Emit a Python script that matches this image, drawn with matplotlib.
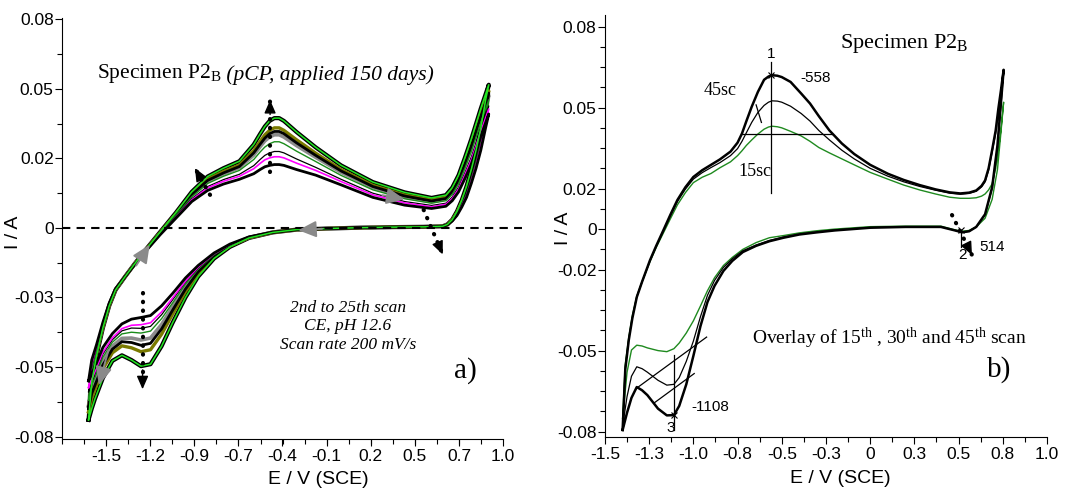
import matplotlib
matplotlib.use("Agg")
import matplotlib.pyplot as plt
from matplotlib.ticker import FixedLocator


plt.rcParams["font.family"] = "Liberation Sans"
plt.rcParams["mathtext.fontset"] = "custom"
plt.rcParams["mathtext.rm"] = "Liberation Serif"
plt.rcParams["mathtext.it"] = "Liberation Serif:italic"


# ---- panel a: scans 2..25, potentials (V vs SCE) ----
A_E_FWD = [-1.61, -1.59, -1.56, -1.52, -1.48, -1.44, -1.38, -1.32, -1.26, -1.16, -1.06, -0.96,
           -0.86, -0.76, -0.66, -0.57, -0.53, -0.50, -0.47, -0.44, -0.41, -0.38, -0.30, -0.18,
           -0.02, 0.18, 0.38, 0.55, 0.64, 0.68, 0.72, 0.76, 0.80, 0.86, 0.91]
A_E_REV = [0.91, 0.89, 0.86, 0.83, 0.80, 0.77, 0.74, 0.71, 0.68, 0.65, 0.62, 0.50, 0.30, 0.10,
           -0.10, -0.30, -0.45, -0.60, -0.72, -0.82, -0.92, -1.00, -1.08, -1.15, -1.22, -1.28,
           -1.34, -1.40, -1.46, -1.52, -1.57, -1.59, -1.61]

# currents (A), anodic sweep
A_FWD_BLACK = [-0.055, -0.0475, -0.042, -0.034, -0.027, -0.0218, -0.0175, -0.0132, -0.009,
               -0.0025, 0.0035, 0.0095, 0.0135, 0.0158, 0.0175, 0.0195, 0.021, 0.022, 0.0225,
               0.0228, 0.0228, 0.0225, 0.021, 0.019, 0.0155, 0.011, 0.0082, 0.0070, 0.0078,
               0.0098, 0.013, 0.0178, 0.023, 0.033, 0.041]
A_FWD_MAGENTA = [-0.0574, -0.0489, -0.0427, -0.0343, -0.0272, -0.0219, -0.0175, -0.0131,
                 -0.0089, -0.0023, 0.0038, 0.0101, 0.0144, 0.0168, 0.0186, 0.0213, 0.0232,
                 0.0245, 0.0252, 0.0256, 0.0256, 0.0252, 0.0233, 0.0207, 0.0167, 0.0119,
                 0.0090, 0.0076, 0.0085, 0.0106, 0.0140, 0.0191, 0.0245, 0.0347, 0.0428]
A_FWD_THIN = [-0.0589, -0.0497, -0.0431, -0.0346, -0.0273, -0.0219, -0.0175, -0.0131, -0.0089,
              -0.0022, 0.0041, 0.0105, 0.0149, 0.0174, 0.0193, 0.0224, 0.0246, 0.0261, 0.0270,
              0.0275, 0.0275, 0.0270, 0.0248, 0.0218, 0.0175, 0.0125, 0.0095, 0.0081, 0.0089,
              0.0111, 0.0147, 0.0199, 0.0255, 0.0358, 0.0439]
A_FWD_DKGREEN = [-0.0619, -0.0514, -0.0440, -0.0350, -0.0275, -0.0220, -0.0175, -0.0131,
                 -0.0088, -0.0020, 0.0045, 0.0112, 0.0160, 0.0186, 0.0207, 0.0246, 0.0273,
                 0.0291, 0.0303, 0.0310, 0.0310, 0.0303, 0.0276, 0.0239, 0.0189, 0.0137,
                 0.0105, 0.0089, 0.0098, 0.0121, 0.0159, 0.0215, 0.0274, 0.0379, 0.0461]
A_FWD_GRAY = [-0.0640, -0.0526, -0.0446, -0.0353, -0.0276, -0.0221, -0.0175, -0.0130, -0.0087,
              -0.0019, 0.0048, 0.0117, 0.0167, 0.0194, 0.0217, 0.0262, 0.0292, 0.0313, 0.0327,
              0.0335, 0.0335, 0.0327, 0.0296, 0.0254, 0.0200, 0.0145, 0.0111, 0.0094, 0.0104,
              0.0128, 0.0168, 0.0226, 0.0288, 0.0394, 0.0477]
A_FWD_BLACK2 = [-0.0649, -0.0532, -0.0448, -0.0354, -0.0277, -0.0222, -0.0175, -0.0130,
                -0.0086, -0.0018, 0.0049, 0.0120, 0.0171, 0.0198, 0.0221, 0.0270, 0.0301,
                0.0323, 0.0339, 0.0347, 0.0347, 0.0339, 0.0306, 0.0261, 0.0205, 0.0149,
                0.0115, 0.0097, 0.0106, 0.0131, 0.0173, 0.0231, 0.0294, 0.0401, 0.0485]
A_FWD_OLIVE = [-0.0661, -0.0538, -0.0452, -0.0356, -0.0278, -0.0222, -0.0175, -0.0130, -0.0086,
               -0.0017, 0.0051, 0.0123, 0.0175, 0.0203, 0.0226, 0.0278, 0.0311, 0.0335, 0.0351,
               0.0360, 0.0360, 0.0351, 0.0317, 0.0269, 0.0210, 0.0153, 0.0118, 0.0100, 0.0110,
               0.0135, 0.0177, 0.0237, 0.0301, 0.0409, 0.0493]
A_FWD_GREEN = [-0.069, -0.0555, -0.046, -0.036, -0.028, -0.0223, -0.0175, -0.0129, -0.0085,
               -0.0015, 0.0055, 0.013, 0.0185, 0.0215, 0.024, 0.030, 0.0338, 0.0365, 0.0385,
               0.0395, 0.0395, 0.0385, 0.0345, 0.029, 0.0225, 0.0165, 0.0128, 0.0108, 0.0118,
               0.0145, 0.019, 0.0253, 0.032, 0.043, 0.0515]

# currents (A), cathodic sweep
A_REV_BLACK = [0.041, 0.036, 0.028, 0.0215, 0.016, 0.011, 0.0075, 0.0045, 0.0025, 0.0012,
               0.0006, 0.0004, 0.0003, 0.0001, -0.0002, -0.0006, -0.0015, -0.0032, -0.0058,
               -0.009, -0.0135, -0.018, -0.0235, -0.028, -0.0315, -0.0322, -0.0328, -0.0345,
               -0.038, -0.043, -0.050, -0.0525, -0.055]
A_REV_MAGENTA = [0.0428, 0.0375, 0.0292, 0.0225, 0.0168, 0.0116, 0.0079, 0.0047, 0.0026,
                 0.0012, 0.0006, 0.0004, 0.0003, 0.0001, -0.0002, -0.0006, -0.0015, -0.0033,
                 -0.0060, -0.0093, -0.0141, -0.0191, -0.0251, -0.0302, -0.0341, -0.0348,
                 -0.0350, -0.0362, -0.0395, -0.0447, -0.0517, -0.0544, -0.0574]
A_REV_THIN = [0.0439, 0.0382, 0.0298, 0.0229, 0.0171, 0.0119, 0.0081, 0.0048, 0.0026, 0.0012,
              0.0006, 0.0004, 0.0003, 0.0001, -0.0002, -0.0006, -0.0015, -0.0033, -0.0060,
              -0.0094, -0.0144, -0.0195, -0.0258, -0.0312, -0.0354, -0.0361, -0.0360, -0.0370,
              -0.0402, -0.0454, -0.0525, -0.0553, -0.0589]
A_REV_DKGREEN = [0.0461, 0.0392, 0.0306, 0.0236, 0.0176, 0.0123, 0.0083, 0.0050, 0.0027,
                 0.0012, 0.0006, 0.0004, 0.0003, 0.0001, -0.0002, -0.0006, -0.0015, -0.0033,
                 -0.0061, -0.0096, -0.0148, -0.0202, -0.0269, -0.0326, -0.0371, -0.0378,
                 -0.0375, -0.0381, -0.0411, -0.0465, -0.0537, -0.0565, -0.0619]
A_REV_GRAY = [0.0477, 0.0406, 0.0317, 0.0245, 0.0183, 0.0128, 0.0087, 0.0052, 0.0027, 0.0012,
              0.0006, 0.0004, 0.0003, 0.0001, -0.0002, -0.0006, -0.0015, -0.0034, -0.0063,
              -0.0099, -0.0153, -0.0212, -0.0283, -0.0347, -0.0396, -0.0403, -0.0396, -0.0397,
              -0.0425, -0.0481, -0.0553, -0.0583, -0.0640]
A_REV_BLACK2 = [0.0485, 0.0417, 0.0326, 0.0252, 0.0189, 0.0133, 0.0089, 0.0054, 0.0028,
                0.0012, 0.0006, 0.0004, 0.0003, 0.0001, -0.0002, -0.0006, -0.0016, -0.0034,
                -0.0064, -0.0101, -0.0158, -0.0220, -0.0295, -0.0363, -0.0415, -0.0422,
                -0.0412, -0.0409, -0.0436, -0.0493, -0.0566, -0.0596, -0.0649]
A_REV_OLIVE = [0.0493, 0.0430, 0.0336, 0.0261, 0.0195, 0.0138, 0.0093, 0.0056, 0.0029, 0.0012,
               0.0006, 0.0004, 0.0003, 0.0001, -0.0002, -0.0006, -0.0016, -0.0035, -0.0065,
               -0.0104, -0.0163, -0.0229, -0.0309, -0.0382, -0.0438, -0.0445, -0.0431, -0.0424,
               -0.0449, -0.0507, -0.0581, -0.0613, -0.0661]
A_REV_GREEN = [0.0515, 0.046, 0.036, 0.028, 0.021, 0.015, 0.010, 0.006, 0.003, 0.0013, 0.0006,
               0.0004, 0.0003, 0.0001, -0.0002, -0.0006, -0.0016, -0.0036, -0.0068, -0.011,
               -0.0175, -0.025, -0.034, -0.0425, -0.049, -0.0497, -0.0475, -0.0458, -0.0478,
               -0.054, -0.0615, -0.065, -0.069]

A_XTICKS = [-1.5 + k * 2.5 / 9 for k in range(10)]
A_XTICK_LABELS = ["-1.5", "-1.2", "-0.9", "-0.7", "-0.4", "-0.1", "0.2", "0.5", "0.7", "1.0"]
A_YTICKS = [0.075, 0.05, 0.025, 0.0, -0.025, -0.05, -0.075]
A_YTICK_LABELS = ["0.08", "0.05", "0.02", "0", "-0.03", "-0.05", "-0.08"]

# ---- panel b: overlay of scans 15, 30, 45 ----
B_E_FWD = [-1.40, -1.385, -1.365, -1.345, -1.32, -1.29, -1.245, -1.21, -1.17, -1.13, -1.09,
           -1.045, -1.00, -0.95, -0.90, -0.85, -0.79, -0.75, -0.725, -0.70, -0.67, -0.635,
           -0.60, -0.575, -0.555, -0.525, -0.50, -0.45, -0.39, -0.34, -0.29, -0.23, -0.16,
           -0.09, 0.0, 0.10, 0.19, 0.28, 0.37, 0.45, 0.51, 0.56, 0.60, 0.63, 0.65, 0.67, 0.69,
           0.71, 0.725, 0.74, 0.755]
B_E_REV = [0.755, 0.74, 0.72, 0.69, 0.65, 0.60, 0.56, 0.52, 0.48, 0.40, 0.20, 0.00, -0.20,
           -0.30, -0.40, -0.49, -0.57, -0.645, -0.72, -0.78, -0.83, -0.88, -0.92, -0.96, -1.00,
           -1.04, -1.08, -1.11, -1.15, -1.20, -1.26, -1.29, -1.32, -1.35, -1.375, -1.40]

B_FWD_45 = [-0.0744, -0.052, -0.041, -0.033, -0.0252, -0.0195, -0.0115, -0.0062, -0.0005,
            0.0053, 0.0108, 0.0155, 0.0193, 0.0218, 0.0238, 0.0258, 0.0287, 0.0320, 0.0354,
            0.0400, 0.0453, 0.0508, 0.0553, 0.0565, 0.0570, 0.0568, 0.0563, 0.0545, 0.0502,
            0.0465, 0.0418, 0.0365, 0.0317, 0.0278, 0.0238, 0.0205, 0.0182, 0.0163, 0.0147,
            0.0136, 0.0132, 0.0135, 0.0143, 0.0160, 0.0180, 0.0225, 0.0293, 0.0365, 0.0445,
            0.0515, 0.0590]
B_FWD_30 = [-0.073, -0.051, -0.0405, -0.0327, -0.0250, -0.0195, -0.0117, -0.0064, -0.0008,
            0.0048, 0.0102, 0.0148, 0.0185, 0.0209, 0.0228, 0.0246, 0.0272, 0.0298, 0.0325,
            0.0357, 0.0395, 0.0432, 0.0458, 0.0470, 0.0475, 0.0474, 0.0470, 0.0455, 0.0428,
            0.0400, 0.0365, 0.0330, 0.0292, 0.0260, 0.0225, 0.0196, 0.0175, 0.0158, 0.0144,
            0.0133, 0.0129, 0.0132, 0.0140, 0.0156, 0.0175, 0.0218, 0.0285, 0.0355, 0.0435,
            0.0505, 0.0580]
B_FWD_15 = [-0.0701, -0.050, -0.040, -0.032, -0.0250, -0.0195, -0.0120, -0.0068, -0.0015,
            0.0038, 0.0090, 0.0135, 0.0172, 0.0192, 0.0206, 0.0227, 0.0249, 0.0272, 0.0290,
            0.0310, 0.0330, 0.0352, 0.0370, 0.0378, 0.0381, 0.0379, 0.0375, 0.0362, 0.0345,
            0.0325, 0.0302, 0.0282, 0.0260, 0.0238, 0.0210, 0.0185, 0.0163, 0.0145, 0.0130,
            0.0118, 0.0114, 0.0114, 0.0116, 0.0122, 0.0130, 0.0145, 0.0168, 0.0225, 0.0290,
            0.0370, 0.0470]

B_REV_45 = [0.0590, 0.047, 0.031, 0.0155, 0.0055, 0.0008, -0.0008, -0.0012, -0.0005, 0.0008,
            0.0008, 0.0005, -0.0005, -0.0012, -0.0020, -0.0032, -0.0045, -0.0062, -0.0085,
            -0.0118, -0.0155, -0.0210, -0.0270, -0.0360, -0.0470, -0.0575, -0.0655, -0.0689,
            -0.0690, -0.0665, -0.0615, -0.0597, -0.0585, -0.0625, -0.0680, -0.0744]
B_REV_30 = [0.0580, 0.046, 0.030, 0.015, 0.0053, 0.0008, -0.0008, -0.0012, -0.0005, 0.0009,
            0.0009, 0.0006, -0.0003, -0.0010, -0.0018, -0.0029, -0.0042, -0.0059, -0.0080,
            -0.0110, -0.0142, -0.0190, -0.0245, -0.0325, -0.0415, -0.0490, -0.0550, -0.0575,
            -0.0578, -0.0560, -0.0530, -0.0517, -0.0510, -0.0545, -0.0620, -0.0730]
B_REV_15 = [0.0470, 0.036, 0.022, 0.011, 0.004, 0.0008, -0.0005, -0.0008, -0.0003, 0.0011,
            0.0011, 0.0009, 0.0, -0.0006, -0.0014, -0.0024, -0.0032, -0.0050, -0.0075, -0.0105,
            -0.0135, -0.0180, -0.0228, -0.0285, -0.0340, -0.0385, -0.0422, -0.0443, -0.0454,
            -0.0450, -0.0440, -0.0433, -0.0430, -0.0448, -0.0530, -0.0701]

B_XTICKS = [-1.5 + k * 0.25 for k in range(11)]
B_XTICK_LABELS = ["-1.5", "-1.3", "-1.0", "-0.8", "-0.5", "-0.3", "0", "0.3", "0.5", "0.8", "1.0"]
B_YTICKS = [0.075, 0.045, 0.015, 0.0, -0.015, -0.045, -0.075]
B_YTICK_LABELS = ["0.08", "0.05", "0.02", "0", "-0.02", "-0.05", "-0.08"]

# peak positions reported by the software (V, A)
B_PEAK1_E, B_PEAK1_I = -0.558, 0.0570
B_PEAK2_E, B_PEAK2_I = 0.514, -0.0004
B_PEAK3_E, B_PEAK3_I = -1.108, -0.0689


def style_axes(ax, xticks, xlabels, xminor, yticks, ylabels, yminor):
    for side in ("top", "right"):
        ax.spines[side].set_visible(False)
    ax.set_xticks(xticks)
    ax.set_xticklabels(xlabels)
    ax.set_yticks(yticks)
    ax.set_yticklabels(ylabels)
    ax.xaxis.set_minor_locator(FixedLocator(xminor))
    ax.yaxis.set_minor_locator(FixedLocator(yminor))
    ax.tick_params(which="major", direction="out", length=5, width=0.8, labelsize=12.5, pad=2)
    ax.tick_params(which="minor", direction="out", length=3.5, width=0.8)
    ax.tick_params(axis="y", pad=1)


def dotted_arrow(ax, start, end):
    ax.plot([start[0], end[0]], [start[1], end[1]], color="black", lw=3.0,
            ls=(0, (0.1, 2.0)), dash_capstyle="round", zorder=6)
    back = (end[0] - 0.2 * (end[0] - start[0]), end[1] - 0.2 * (end[1] - start[1]))
    ax.annotate("", xy=end, xytext=back, zorder=7,
                arrowprops=dict(arrowstyle="-|>,head_length=0.8,head_width=0.35",
                                color="black", lw=1.0, shrinkA=0, shrinkB=0))


def gray_arrow(ax, tail, tip):
    ax.annotate("", xy=tip, xytext=tail, zorder=7,
                arrowprops=dict(arrowstyle="-|>,head_length=1.1,head_width=0.5",
                                color="#8a8a8a", lw=1.4, shrinkA=0, shrinkB=0))


def draw_panel_a(ax):
    scans = [
        (A_FWD_GRAY, A_REV_GRAY, "#8c8c8c", 2.6),
        (A_FWD_OLIVE, A_REV_OLIVE, "#7a7a00", 2.4),
        (A_FWD_BLACK2, A_REV_BLACK2, "black", 2.0),
        (A_FWD_DKGREEN, A_REV_DKGREEN, "#1a8c1a", 1.0),
        (A_FWD_THIN, A_REV_THIN, "black", 0.9),
        (A_FWD_MAGENTA, A_REV_MAGENTA, "#ff00ff", 1.2),
        (A_FWD_BLACK, A_REV_BLACK, "black", 2.0),
    ]
    ax.plot(A_E_FWD + A_E_REV, A_FWD_GREEN + A_REV_GREEN, color="black", lw=3.0)
    for fwd, rev, color, lw in scans:
        ax.plot(A_E_FWD + A_E_REV, fwd + rev, color=color, lw=lw)
    ax.plot(A_E_FWD + A_E_REV, A_FWD_GREEN + A_REV_GREEN, color="#22e622", lw=1.1)

    ax.plot([-1.777, 1.12], [0, 0], color="black", lw=1.5, ls=(0, (4, 3)), clip_on=False)

    dotted_arrow(ax, (-0.467, 0.0200), (-0.467, 0.0460))
    dotted_arrow(ax, (-0.845, 0.0119), (-0.94, 0.0215))
    dotted_arrow(ax, (0.50, 0.0065), (0.62, -0.0095))
    dotted_arrow(ax, (-1.27, -0.0234), (-1.27, -0.0580))

    gray_arrow(ax, (0.24, 0.0118), (0.38, 0.0103))
    gray_arrow(ax, (-0.14, -0.0003), (-0.29, -0.0008))
    gray_arrow(ax, (-1.31, -0.0135), (-1.225, -0.0060))
    gray_arrow(ax, (-1.485, -0.0440), (-1.545, -0.0565))

    title = ax.text(-1.557, 0.0540, r"Specimen P2$_\mathrm{B}$", fontsize=15.5,
                    family="Liberation Serif", ha="left", va="baseline")
    ax.annotate(" (pCP, applied 150 days)", xy=(1, 0), xycoords=title, ha="left",
                va="bottom", fontsize=15.5, family="Liberation Serif", style="italic")
    ax.text(0.024, -0.0353, "2nd to 25th scan\nCE, pH 12.6\nScan rate 200 mV/s",
            fontsize=12.5, family="Liberation Serif", style="italic",
            ha="center", va="center", linespacing=1.2)
    ax.text(0.761, -0.0511, "a)", fontsize=21, family="Liberation Serif",
            ha="center", va="center")

    ax.set_xlim(-1.777, 1.0)
    ax.set_ylim(-0.0759, 0.0755)
    minor_x = [-1.777 + k * 2.5 / 18 for k in range(21)]
    minor_y = [-0.075 + k * 0.0125 for k in range(13)]
    style_axes(ax, A_XTICKS, A_XTICK_LABELS, minor_x, A_YTICKS, A_YTICK_LABELS, minor_y)
    ax.set_xlabel("E / V (SCE)", fontsize=14)
    ax.set_ylabel("I / A", fontsize=14)
    ax.xaxis.set_label_coords(0.58, -0.075)
    ax.yaxis.set_label_coords(-0.09, 0.49)


def draw_panel_b(ax):
    ax.plot(B_E_FWD + B_E_REV, B_FWD_15 + B_REV_15, color="#1f8a1f", lw=1.0)
    ax.plot(B_E_FWD + B_E_REV, B_FWD_30 + B_REV_30, color="black", lw=0.9)
    ax.plot(B_E_FWD + B_E_REV, B_FWD_45 + B_REV_45, color="black", lw=1.8)

    # peak 1 construction
    ax.plot([B_PEAK1_E, B_PEAK1_E], [0.0134, 0.0620], color="black", lw=0.9)
    ax.plot([-0.725, -0.216], [0.0352, 0.0352], color="black", lw=0.9)
    ax.plot([-0.645, -0.615], [0.0460, 0.0395], color="black", lw=0.9)
    ax.plot(B_PEAK1_E, B_PEAK1_I, marker="x", ms=5, mew=0.8, color="black")
    ax.text(B_PEAK1_E, 0.0648, "1", fontsize=11, ha="center", va="center")
    ax.text(-0.310, 0.0558, "-558", fontsize=11, ha="center", va="center")
    ax.text(-0.851, 0.0512, "45sc", fontsize=13, family="Liberation Serif",
            ha="center", va="center")
    ax.text(-0.650, 0.0212, "15sc", fontsize=13, family="Liberation Serif",
            ha="center", va="center")

    # peak 2
    ax.plot([B_PEAK2_E, B_PEAK2_E], [B_PEAK2_I, -0.0065], color="black", lw=0.9)
    ax.plot(B_PEAK2_E, B_PEAK2_I, marker="x", ms=5, mew=0.8, color="black")
    dotted_arrow(ax, (0.463, 0.0052), (0.576, -0.0096))
    ax.text(0.525, -0.0096, "2", fontsize=11, ha="center", va="center")
    ax.text(0.689, -0.0066, "514", fontsize=11, ha="center", va="center")

    # peak 3 construction
    ax.plot([-1.310, -0.925], [-0.0584, -0.0400], color="black", lw=0.9)
    ax.plot([-1.220, -0.995], [-0.0643, -0.0535], color="black", lw=0.9)
    ax.plot([B_PEAK3_E, B_PEAK3_E], [-0.0465, -0.0745], color="black", lw=0.9)
    ax.plot(B_PEAK3_E, B_PEAK3_I, marker="x", ms=5, mew=0.8, color="black")
    ax.text(-1.13, -0.0738, "3", fontsize=11, ha="center", va="center")
    ax.text(-0.904, -0.0658, "-1108", fontsize=11, ha="center", va="center")

    ax.text(-0.171, 0.0688, r"Specimen P2$_\mathrm{B}$", fontsize=16,
            family="Liberation Serif", ha="left", va="center")
    ax.text(0.106, -0.0404,
            r"Overlay of 15$^\mathrm{th}$ , 30$^\mathrm{th}$ and 45$^\mathrm{th}$ scan",
            fontsize=14, family="Liberation Serif", ha="center", va="center")
    ax.text(0.729, -0.0522, "b)", fontsize=21, family="Liberation Serif",
            ha="center", va="center")

    ax.set_xlim(-1.5, 1.0)
    ax.set_ylim(-0.0770, 0.0793)
    minor_x = [-1.5 + k * 0.125 for k in range(21)]
    minor_y = [-0.075 + k * 0.0075 for k in range(21)]
    style_axes(ax, B_XTICKS, B_XTICK_LABELS, minor_x, B_YTICKS, B_YTICK_LABELS, minor_y)
    ax.set_xlabel("E / V (SCE)", fontsize=14)
    ax.set_ylabel("I / A", fontsize=14)
    ax.xaxis.set_label_coords(0.532, -0.078)
    ax.yaxis.set_label_coords(-0.075, 0.495)


def main():
    fig = plt.figure(figsize=(10.77, 4.91), dpi=100)
    ax_a = fig.add_axes([0.0576, 0.1059, 0.4095, 0.8574])
    ax_b = fig.add_axes([0.5617, 0.1100, 0.4104, 0.8595])
    draw_panel_a(ax_a)
    draw_panel_b(ax_b)
    fig.savefig("out.png", dpi=100)
    plt.close(fig)


if __name__ == "__main__":
    main()
